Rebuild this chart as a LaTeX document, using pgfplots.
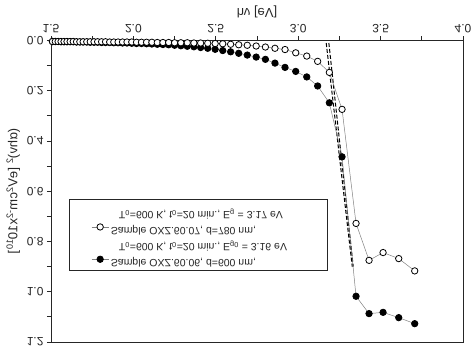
\documentclass[border=0pt]{standalone}
\usepackage{fontspec}
\setmainfont{Liberation Sans}
\usepackage{graphicx}
\usepackage{pgfplots}
\pgfplotsset{compat=1.18}
\newcommand{\vf}[1]{\scalebox{1}[-1]{#1}}
\pgfplotstableread{
x y
1.509 0.004
1.526 0.004
1.543 0.004
1.561 0.004
1.579 0.004
1.597 0.004
1.616 0.004
1.635 0.004
1.655 0.005
1.675 0.005
1.695 0.005
1.717 0.005
1.738 0.005
1.761 0.005
1.783 0.005
1.807 0.005
1.831 0.005
1.856 0.006
1.881 0.006
1.907 0.006
1.934 0.006
1.961 0.006
1.990 0.006
2.019 0.007
2.049 0.007
2.080 0.007
2.112 0.007
2.145 0.008
2.179 0.008
2.214 0.008
2.250 0.009
2.288 0.009
2.327 0.009
2.367 0.010
2.408 0.010
2.451 0.011
2.496 0.012
2.542 0.013
2.590 0.015
2.639 0.017
2.691 0.019
2.745 0.022
2.801 0.026
2.859 0.031
2.920 0.036
2.985 0.049
3.052 0.062
3.118 0.083
3.189 0.127
3.266 0.274
3.351 0.728
3.430 0.875
3.515 0.844
3.610 0.868
3.707 0.917
}\openD
\pgfplotstableread{
x y
1.509 0.004
1.526 0.004
1.543 0.004
1.561 0.005
1.579 0.005
1.597 0.005
1.616 0.005
1.635 0.005
1.655 0.006
1.675 0.006
1.695 0.006
1.717 0.006
1.738 0.007
1.761 0.007
1.783 0.007
1.807 0.008
1.831 0.008
1.856 0.008
1.881 0.009
1.907 0.009
1.934 0.010
1.961 0.010
1.990 0.011
2.019 0.012
2.049 0.012
2.080 0.013
2.112 0.014
2.145 0.015
2.179 0.016
2.214 0.017
2.250 0.019
2.288 0.021
2.327 0.023
2.367 0.025
2.408 0.028
2.451 0.031
2.496 0.035
2.542 0.040
2.590 0.045
2.639 0.051
2.691 0.058
2.745 0.066
2.801 0.075
2.859 0.090
2.920 0.107
2.985 0.123
3.052 0.145
3.118 0.181
3.189 0.248
3.266 0.463
3.351 1.018
3.430 1.087
3.515 1.082
3.610 1.103
3.707 1.127
}\filledD
\begin{document}
\begin{tikzpicture}
\path[use as bounding box] (0,0) rectangle (474bp,351bp);
\begin{axis}[
  at={(257bp,159.75bp)}, anchor=center,
  scale only axis, width=412bp, height=301.5bp,
  xmin=1.5, xmax=4.0, ymin=0, ymax=1.2,
  y dir=reverse,
  xtick={1.5,2.0,2.5,3.0,3.5,4.0},
  ytick={0,0.2,0.4,0.6,0.8,1.0,1.2},
  minor x tick num=1, minor y tick num=1,
  tick align=outside, xtick pos=upper, xticklabel pos=upper, ytick pos=left,
  major tick length=4bp, minor tick length=4bp,
  axis line style={line width=0.9pt, black!85},
  every tick/.style={black!85, line width=0.8pt},
  /pgf/number format/assume math mode=true,
  xticklabel={\vf{\pgfmathprintnumber[fixed,fixed zerofill,precision=1]{\tick}}},
  yticklabel={\vf{\pgfmathprintnumber[fixed,fixed zerofill,precision=1]{\tick}}},
  tick label style={font=\fontsize{12bp}{14bp}\selectfont, black!85},
  xlabel={\vf{hν [eV]}},
  ylabel={\scalebox{-1}[1]{(αhν)\textsuperscript{2} [eV\textsuperscript{2}cm\textsuperscript{-2}x10\textsuperscript{10}]}},
  label style={font=\fontsize{13bp}{15bp}\selectfont, black!85},
  legend style={at={(axis cs:1.609,0.631)}, anchor=north west,
    font=\fontsize{10.5bp}{12bp}\selectfont, draw=black!85, line width=0.9pt,
    inner xsep=22bp, inner ysep=7bp, row sep=8bp, text=black!85},
  legend cell align=left,
]
\addlegendimage{empty legend}
\addlegendentry{\vf{\hspace{8bp}T\textsubscript{0}=600 K, t\textsubscript{0}=20 min., E\textsubscript{g} = 3.17 eV\hspace{20bp}}}
\addlegendimage{gray, line width=0.5pt, mark=*, mark size=3.2bp, mark options={draw=black, fill=white, line width=0.8pt}}
\addlegendentry{\vf{Sample OXZ.60.07, d=780 nm,}}
\addlegendimage{empty legend}
\addlegendentry{\vf{\hspace{8bp}T\textsubscript{0}=600 K, t\textsubscript{0}=20 min., E\textsubscript{g0} = 3.16 eV}}
\addlegendimage{gray, line width=0.5pt, mark=*, mark size=3.2bp, mark options={draw=black, fill=black, line width=0.8pt}}
\addlegendentry{\vf{Sample OXZ.60.06, d=600 nm,}}
\addplot[forget plot, black, line width=1pt, dash pattern=on 4bp off 2bp] coordinates {(3.170,0.01) (3.328,0.90)};
\addplot[forget plot, black, line width=1pt, dash pattern=on 4bp off 2bp] coordinates {(3.186,0.01) (3.334,0.90)};
\addplot[forget plot, gray, line width=0.5pt, mark=*, mark size=3.2bp, mark options={draw=black, fill=black, line width=0.8pt}] table {\filledD};
\addplot[forget plot, gray, line width=0.5pt, mark=*, mark size=3.2bp, mark options={draw=black, fill=white, line width=0.8pt}] table {\openD};
\end{axis}
\end{tikzpicture}
\end{document}
